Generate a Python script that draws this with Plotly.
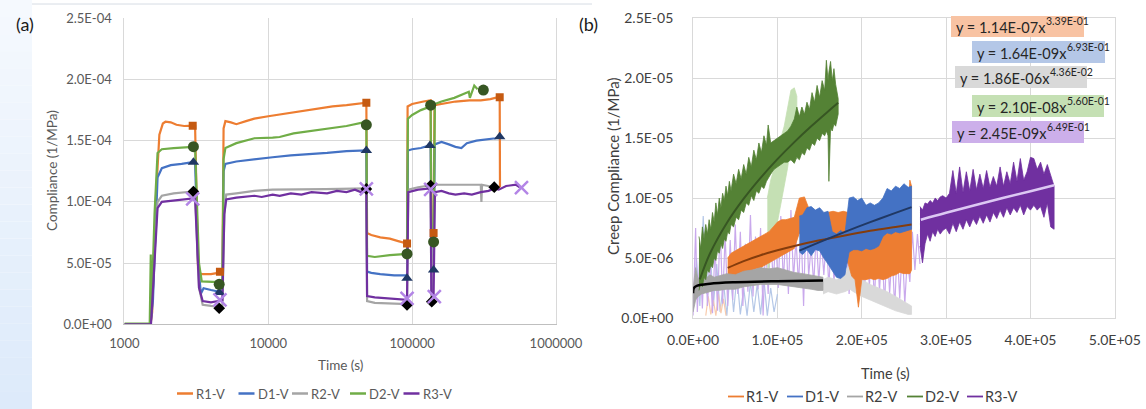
import plotly.graph_objects as go

W, H = 1146, 409
FONT = "Lato, 'Open Sans', sans-serif"

# ---------------- Panel (a) data (compliance in units of 1E-04 1/MPa) ----------------
a_xtickvals = [1000, 10000, 100000, 1000000]
a_xticktext = ["1000", "10000", "100000", "1000000"]
a_ytickvals = [0, 0.5, 1.0, 1.5, 2.0, 2.5]
a_yticktext = ["0.0E+00", "5.0E-05", "1.0E-04", "1.5E-04", "2.0E-04", "2.5E-04"]

series_names = ["R1-V", "D1-V", "R2-V", "D2-V", "R3-V"]

r1_t = [1000, 1520, 1560, 1650, 1750, 1850, 1930, 2100, 2300, 2600, 2984, 3100, 3250, 3400, 4000, 4480, 4614, 4800, 4891, 5035,
        5500, 6000, 7000, 8000, 10000, 13000, 17000, 22000, 28000, 35000, 42000, 48060, 48620, 52000, 60000, 70000, 80000, 92170, 93000, 100000,
        120000, 134500, 136000, 141000, 143000, 160000, 200000, 250000, 300000, 350000, 406100, 408000]
r1_c = [0, 0, 0.1, 1.0, 1.55, 1.64, 1.655, 1.65, 1.63, 1.62, 1.623, 1.62, 0.45, 0.41, 0.41, 0.42, 0.43, 0.43, 1.60, 1.66,
        1.65, 1.635, 1.66, 1.68, 1.70, 1.72, 1.74, 1.76, 1.78, 1.79, 1.80, 1.81, 0.745, 0.73, 0.71, 0.70, 0.68, 0.66, 1.78, 1.80,
        1.82, 1.83, 0.76, 0.744, 1.79, 1.80, 1.82, 1.83, 1.83, 1.84, 1.86, 1.12]

d1_t = [1000, 1520, 1580, 1700, 1820, 2100, 2500, 2984, 3100, 3255, 3400, 3550, 4000, 4480, 4614, 4800, 4891, 5035, 6000, 8000,
        10723, 14340, 20000, 25650, 35000, 45870, 48060, 48620, 52000, 60000, 75000, 92170, 93500, 100000, 115000, 130700, 134500, 136000, 141000, 143500,
        160000, 180000, 200000, 220000, 240000, 280000, 330000, 380000, 406100]
d1_c = [0, 0, 0.2, 1.2, 1.275, 1.30, 1.31, 1.325, 1.32, 0.5, 0.25, 0.295, 0.28, 0.265, 0.26, 0.26, 1.25, 1.31, 1.33, 1.35,
        1.365, 1.38, 1.39, 1.40, 1.415, 1.42, 1.42, 0.43, 0.42, 0.41, 0.40, 0.40, 1.42, 1.43, 1.44, 1.46, 1.46, 0.47, 0.445, 1.47,
        1.49, 1.47, 1.45, 1.44, 1.48, 1.50, 1.51, 1.52, 1.535]

r2_t = [1000, 1520, 1600, 1700, 1820, 2200, 2984, 3100, 3300, 3500, 4000, 4480, 4614, 4800, 4950, 5100, 6000, 8000, 10723, 15000,
        25000, 48060, 48620, 55000, 70000, 92170, 94000, 110000, 134500, 136000, 139000, 142600, 200000, 280000, 300000, 303000, 306000, 372200, 380000]
r2_c = [0, 0, 0.5, 1.0, 1.05, 1.07, 1.085, 1.08, 0.3, 0.16, 0.15, 0.145, 0.14, 0.14, 0.9, 1.06, 1.07, 1.09, 1.10, 1.10,
        1.105, 1.11, 0.19, 0.175, 0.17, 0.165, 1.10, 1.12, 1.135, 0.2, 0.185, 1.14, 1.14, 1.14, 1.14, 1.0, 1.14, 1.12, 1.12]

d2_t = [1000, 1500, 1525, 1535, 1560, 1620, 1700, 1820, 2200, 2984, 3100, 3300, 3450, 4000, 4480, 4614, 4800, 4891, 5035, 6000,
        7000, 8017, 10723, 12000, 15000, 20000, 25650, 35000, 45870, 48060, 48620, 55000, 70000, 92170, 93500, 100000, 115000, 130700, 134500, 136000,
        141000, 144000, 160000, 196400, 230000, 247700, 252000, 270300, 285000]
d2_c = [0.005, 0.005, 0.57, 0.1, 0.3, 0.9, 1.40, 1.43, 1.44, 1.45, 1.44, 0.5, 0.35, 0.35, 0.345, 0.33, 0.34, 1.35, 1.44, 1.48,
        1.50, 1.52, 1.525, 1.53, 1.56, 1.58, 1.60, 1.62, 1.65, 1.65, 0.56, 0.55, 0.565, 0.575, 1.68, 1.71, 1.75, 1.77, 1.78, 0.69,
        0.673, 1.80, 1.82, 1.85, 1.88, 1.90, 1.85, 1.95, 1.92]

r3_t = [1000, 1530, 1600, 1700, 1820, 2200, 2600, 2984, 3100, 3300, 3500, 4000, 4480, 4614, 4800, 4950, 5100, 6000, 7000, 8017,
        9000, 10723, 12000, 14340, 17000, 20000, 25650, 30000, 35000, 40000, 44000, 46000, 48060, 48620, 55000, 70000, 92170, 94000, 110000, 134500,
        136000, 141000, 144000, 160000, 180000, 200000, 230000, 260000, 300000, 340000, 372200, 400000, 450000, 527600, 560000]
r3_c = [0, 0, 0.4, 0.95, 1.0, 1.01, 1.02, 1.03, 1.03, 0.3, 0.19, 0.18, 0.19, 0.2, 0.2, 0.9, 1.02, 1.035, 1.04, 1.05,
        1.04, 1.06, 1.05, 1.07, 1.06, 1.08, 1.07, 1.09, 1.08, 1.10, 1.08, 1.11, 1.10, 0.23, 0.22, 0.21, 0.20, 1.08, 1.10, 1.11,
        0.25, 0.23, 1.08, 1.09, 1.07, 1.06, 1.07, 1.06, 1.08, 1.09, 1.11, 1.10, 1.13, 1.14, 1.12]

# marker points (end of each step)
r1_mk_t = [2984, 4614, 48060, 92170, 141000, 406100]
r1_mk_c = [1.623, 0.43, 1.81, 0.66, 0.745, 1.855]
d1_mk_t = [3018, 4560, 48060, 92170, 133000, 141000, 406100]
d1_mk_c = [1.324, 0.26, 1.419, 0.376, 1.46, 0.444, 1.533]
r2_mk_t = [3018, 4560, 48060, 92170, 134500, 136900, 372200]
r2_mk_c = [1.084, 0.131, 1.106, 0.158, 1.133, 0.185, 1.12]
d2_mk_t = [3018, 4560, 48060, 92170, 134500, 141000, 312600]
d2_mk_c = [1.451, 0.327, 1.63, 0.575, 1.79, 0.673, 1.914]
r3_mk_t = [2984, 4614, 48060, 92170, 134500, 142600, 575600]
r3_mk_c = [1.024, 0.20, 1.106, 0.212, 1.103, 0.226, 1.117]

# ---------------- Panel (b) data (time in s, creep compliance in units of 1E-06 1/MPa) ----------------
b_xtickvals = [0, 100000, 200000, 300000, 400000, 500000]
b_xticktext = ["0.0E+00", "1.0E+05", "2.0E+05", "3.0E+05", "4.0E+05", "5.0E+05"]
b_ytickvals = [0, 5, 10, 15, 20, 25]
b_yticktext = ["0.0E+00", "5.0E-06", "1.0E-05", "1.5E-05", "2.0E-05", "2.5E-05"]

# raw (light) data, zig-zag readings
lp_t = [0, 3000, 5000, 8000, 11000, 14000, 17000, 20000, 23000, 26000, 29000, 32000, 35000, 38000, 41000, 44000, 47000, 50000, 53000, 56000,
        59000, 62000, 65000, 68000, 71000, 74000, 77000, 80000, 83000, 86000, 89000, 92000, 95000, 98000, 101000, 104000, 107000, 110000, 113000, 116000,
        119000, 122000, 125000, 128000, 131000, 134000, 137000, 140000, 143000, 146000, 149000, 152000, 155000, 158000, 161000, 164000, 167000, 170000, 173000, 176000,
        179000, 182000, 185000, 188000, 191000, 194000, 197000, 200000, 203000, 206000, 209000, 212000, 215000, 218000, 221000, 224000, 227000, 230000, 233000, 236000,
        239000, 242000, 245000, 248000, 251000, 254000, 257000, 260000, 263000, 266000, 269000]
lp_c = [0.2, 7.5, 0.5, 5.5, 0.8, 6.8, 1.0, 5.0, 0.4, 6.0, 0.6, 8.0, 1.2, 7.0, 1.0, 6.5, 1.5, 7.8, 2.0, 7.2,
        1.0, 6.2, 2.2, 8.6, 1.8, 6.8, 2.4, 7.5, 0.2, 6.4, 2.0, 7.0, 3.0, 6.5, 2.5, 8.5, 3.0, 7.2, 2.0, 9.0,
        3.2, 6.6, 2.8, 7.5, 1.0, 9.2, 3.5, 6.0, 2.8, 7.0, 3.0, 6.5, 3.6, 6.8, 2.5, 7.4, 3.0, 6.0, 3.4, 7.2,
        2.6, 6.4, 2.0, 7.0, 3.0, 6.2, 2.4, 7.6, 1.8, 6.4, 2.6, 6.0, 1.4, 6.6, 2.2, 6.0, 1.0, 6.4, 2.0, 5.6,
        0.8, 5.8, 1.6, 6.0, 1.2, 5.0, 3.0, 7.2, 4.0, 7.0, 4.5]

lb_t = [0, 4000, 8000, 12000, 16000, 20000, 24000, 28000, 32000, 36000, 40000, 44000, 48000, 52000, 56000, 60000, 64000, 68000, 72000, 76000,
        80000, 84000, 88000, 92000, 96000, 100000]
lb_c = [0.5, 5.0, 1.0, 8.5, 2.0, 6.0, 1.0, 4.5, 0.5, 3.0, 0.2, 4.0, 0.5, 3.5, 0.3, 2.5, 0.2, 3.0, 0.5, 2.8,
        0.3, 3.2, 0.2, 2.5, 0.5, 2.0]

lo_t = [15000, 18000, 21000, 24000, 27000, 30000, 33000, 36000, 39000]
lo_c = [0.2, 1.8, 0.3, 1.5, 0.2, 2.0, 0.4, 1.6, 0.2]

lg_t = [88000, 92000, 96000, 100000, 104000, 108000, 112000, 116000, 120000, 123000]
lg_hi = [10.0, 11.5, 12.5, 13.8, 15.0, 16.0, 17.5, 19.0, 19.2, 18.5]
lg_lo = [3.5, 5.0, 6.5, 8.0, 9.5, 11.0, 12.5, 14.5, 16.0, 16.8]

lgr_t = [154000, 160000, 170000, 180000, 186000, 190000, 200000, 210000, 220000, 230000, 240000, 250000, 255000, 259000]
lgr_hi = [3.2, 3.4, 3.2, 3.6, 4.6, 3.8, 3.2, 2.8, 2.5, 2.2, 1.8, 1.4, 1.2, 1.0]
lgr_lo = [2.0, 2.2, 2.0, 2.2, 2.4, 2.2, 1.8, 1.5, 1.2, 0.9, 0.6, 0.4, 0.3, 0.3]

# fitted-range data: upper / lower envelopes of the oscillating signal
b_r1_t = [41000, 45000, 50000, 55000, 60000, 65000, 70000, 75000, 80000, 85000, 90000, 95000, 100000, 105000, 110000, 115000, 120000, 126000, 132000, 138000,
          145000, 152000, 160000, 166000, 172000, 178000, 184000, 188000, 192000, 196000, 200000, 205000, 210000, 215000, 220000, 225000, 230000, 235000, 240000, 245000,
          250000, 254000, 257000, 259000]
b_r1_hi = [5.0, 5.4, 5.6, 5.8, 6.0, 6.2, 6.4, 6.6, 6.8, 7.0, 7.2, 7.6, 8.0, 8.2, 8.2, 8.3, 8.4, 10.0, 10.1, 9.0,
           8.8, 8.7, 8.8, 8.9, 8.8, 8.9, 8.8, 8.9, 8.7, 7.3, 7.4, 7.3, 7.4, 7.5, 7.3, 7.6, 7.6, 7.7, 7.6, 7.8,
           8.0, 8.2, 11.5, 11.0]
b_r1_lo = [2.9, 3.0, 3.2, 3.4, 3.6, 3.8, 4.0, 4.1, 4.2, 4.4, 4.6, 4.8, 5.0, 5.2, 5.4, 5.6, 5.8, 7.1, 6.5, 6.0,
           5.8, 5.7, 5.7, 5.7, 5.7, 5.2, 4.5, 3.5, 3.2, 0.9, 3.2, 3.2, 3.3, 3.2, 3.3, 3.2, 3.3, 3.5, 3.6, 3.8,
           3.7, 3.7, 3.7, 4.0]

b_d1_t = [126000, 130000, 135000, 140000, 145000, 150000, 155000, 160000, 165000, 170000, 175000, 180000, 185000, 190000, 195000, 200000, 205000, 210000, 215000, 220000,
          225000, 230000, 235000, 240000, 245000, 250000, 255000, 259000]
b_d1_hi = [8.5, 8.6, 9.2, 9.3, 9.0, 9.2, 8.8, 8.9, 7.2, 7.0, 7.3, 7.0, 10.0, 10.1, 9.8, 10.0, 9.4, 9.6, 9.4, 9.6,
           10.0, 10.8, 10.6, 11.0, 10.8, 11.2, 10.9, 11.0]
b_d1_lo = [5.5, 5.3, 5.7, 5.2, 5.7, 5.6, 5.0, 4.5, 4.0, 3.4, 3.3, 3.6, 5.5, 5.7, 5.7, 5.6, 5.8, 5.7, 5.8, 6.0,
           6.8, 7.1, 7.0, 7.2, 7.1, 7.2, 7.3, 7.4]

b_r2_t = [0, 3000, 6000, 10000, 15000, 20000, 25000, 30000, 40000, 50000, 60000, 70000, 80000, 90000, 100000, 110000, 120000, 130000, 140000, 148000, 154000]
b_r2_hi = [2.5, 4.2, 3.2, 3.8, 3.3, 3.6, 3.4, 3.5, 3.7, 3.6, 3.9, 4.0, 4.2, 4.1, 4.2, 4.0, 3.8, 3.7, 3.6, 3.5, 3.4]
b_r2_lo = [0.5, 1.5, 1.8, 2.0, 2.1, 2.2, 2.3, 2.3, 2.4, 2.4, 2.6, 2.7, 2.8, 2.8, 2.8, 2.7, 2.6, 2.5, 2.4, 2.3, 2.3]

b_d2_t = [7000, 9000, 11000, 13000, 15000, 17000, 19000, 21000, 23000, 25000, 27000, 29000, 31000, 33000, 35000, 37000, 39000, 41000, 43000, 45000,
          48000, 51000, 54000, 57000, 60000, 63000, 66000, 69000, 72000, 75000, 78000, 81000, 84000, 87000, 89000, 92000, 96000, 100000, 104000, 108000,
          112000, 116000, 120000, 123000, 126000, 129000, 132000, 135000, 138000, 141000, 144000, 147000, 150000, 153000, 156000, 158000, 160000, 161000, 163000, 165000,
          167000, 169000, 171000, 172000]
b_d2_hi = [6.8, 5.8, 7.6, 6.6, 7.8, 7.0, 8.2, 7.4, 8.8, 8.0, 9.6, 8.6, 10.0, 9.2, 10.4, 9.8, 11.0, 10.2, 11.4, 10.6,
           12.0, 11.2, 12.4, 11.6, 12.8, 12.0, 13.4, 12.6, 14.0, 13.2, 14.6, 13.8, 15.2, 14.4, 16.1, 14.6, 14.8, 15.0, 15.2, 15.4,
           15.6, 16.0, 16.6, 17.6, 16.8, 17.6, 17.0, 18.0, 17.4, 18.8, 18.0, 19.4, 18.4, 19.8, 19.0, 21.5, 19.8, 20.5, 21.4, 19.8,
           20.8, 19.5, 18.8, 18.3]
b_d2_lo = [2.3, 3.0, 2.6, 3.4, 3.2, 4.0, 3.8, 4.4, 4.2, 5.0, 4.8, 5.6, 5.4, 6.2, 5.8, 6.6, 6.4, 7.2, 7.0, 7.8,
           7.6, 8.4, 8.2, 9.0, 8.8, 9.6, 9.4, 10.2, 9.8, 10.6, 10.4, 11.0, 10.8, 11.4, 11.6, 12.0, 12.4, 12.6, 12.8, 13.0,
           13.0, 13.2, 12.9, 13.4, 13.2, 13.8, 13.6, 14.2, 14.0, 14.6, 14.4, 15.0, 14.8, 15.4, 15.2, 15.6, 15.2, 11.4, 15.8, 15.6,
           16.2, 16.0, 16.6, 17.0]

b_r3_t = [269000, 272000, 275000, 278000, 281000, 284000, 287000, 290000, 293000, 296000, 300000, 304000, 308000, 312000, 316000, 320000, 324000, 328000, 332000, 336000,
          340000, 344000, 348000, 352000, 356000, 360000, 364000, 368000, 372000, 376000, 380000, 384000, 388000, 392000, 396000, 400000, 404000, 408000, 412000, 416000,
          420000, 424000, 428000]
b_r3_hi = [9.3, 9.0, 9.6, 9.5, 9.8, 9.6, 10.0, 9.8, 10.1, 10.2, 10.0, 10.4, 12.3, 10.4, 12.6, 10.5, 12.2, 10.6, 12.4, 10.7,
           12.0, 10.8, 12.3, 10.9, 11.8, 11.0, 12.6, 11.0, 12.2, 11.2, 13.0, 11.4, 13.3, 11.5, 12.2, 13.4, 13.3, 12.4, 13.0, 12.0,
           12.8, 11.8, 11.0]
b_r3_lo = [6.0, 4.6, 6.2, 7.0, 6.4, 7.2, 6.8, 7.4, 7.0, 7.3, 7.5, 7.0, 7.9, 7.2, 8.0, 7.4, 8.2, 7.6, 8.3, 7.8,
           8.5, 7.9, 8.6, 8.0, 8.8, 8.3, 9.0, 8.4, 9.2, 8.6, 9.2, 8.8, 9.4, 8.6, 9.3, 9.0, 9.4, 9.0, 9.3, 8.4,
           9.6, 7.6, 7.4]

# power-law trendlines
fit_d2_t = [8000, 20000, 40000, 60000, 80000, 100000, 120000, 140000, 160000, 172000]
fit_d2_c = [3.22, 5.38, 7.93, 9.95, 11.69, 13.25, 14.67, 15.99, 17.23, 17.95]
fit_r1_t = [41000, 60000, 80000, 100000, 120000, 150000, 180000, 210000, 240000, 259000]
fit_r1_c = [4.18, 4.75, 5.24, 5.65, 6.01, 6.48, 6.89, 7.27, 7.60, 7.80]
fit_d1_t = [126000, 150000, 180000, 210000, 240000, 259000]
fit_d1_c = [5.62, 6.33, 7.19, 8.00, 8.77, 9.25]
fit_r2_t = [10, 100, 1000, 5000, 20000, 50000, 100000, 154000]
fit_r2_c = [2.06, 2.27, 2.51, 2.70, 2.86, 2.98, 3.07, 3.13]
fit_r3_t = [270000, 300000, 350000, 400000, 428000]
fit_r3_c = [8.20, 8.78, 9.70, 10.58, 11.07]

eq_base = ["y = 1.14E-07x", "y = 1.64E-09x", "y = 1.86E-06x", "y = 2.10E-08x", "y = 2.45E-09x"]
eq_sup = ["3.39E-01", "6.93E-01", "4.36E-02", "5.60E-01", "6.49E-01"]
eq_bg = ["#F8C3A3", "#B4C7E7", "#D9D9D9", "#C5E0B4", "#CCAFEA"]

# ---------------- styling ----------------
col_a = ["#ED7D31", "#4472C4", "#A5A5A5", "#70AD47", "#7030A0"]
col_b = ["#ED7D31", "#4472C4", "#A5A5A5", "#548235", "#7030A0"]


def px(x):
    return x / W


def py(y):
    return 1 - y / H


fig = go.Figure()

# ---- panel (a) lines ----
for t, c, col in zip([r1_t, d1_t, r2_t, d2_t, r3_t], [r1_c, d1_c, r2_c, d2_c, r3_c], col_a):
    fig.add_trace(go.Scatter(x=t, y=c, mode="lines", line=dict(color=col, width=2.2),
                             xaxis="x", yaxis="y", showlegend=False, hoverinfo="skip"))

mk_specs = [
    (r1_mk_t, r1_mk_c, dict(symbol="square", size=8, color="#C55A11")),
    (d1_mk_t, d1_mk_c, dict(symbol="triangle-up", size=10, color="#203864")),
    (r2_mk_t, r2_mk_c, dict(symbol="diamond", size=9, color="#000000")),
    (d2_mk_t, d2_mk_c, dict(symbol="circle", size=11, color="#375623")),
    (r3_mk_t, r3_mk_c, dict(symbol="x-thin", size=13, color="#B385E6", line=dict(color="#B385E6", width=2.5))),
]
for t, c, m in mk_specs:
    fig.add_trace(go.Scatter(x=t, y=c, mode="markers", marker=m, xaxis="x", yaxis="y",
                             showlegend=False, hoverinfo="skip"))


# ---- panel (b) ----
def band(t, hi, lo, color, width=0.8):
    fig.add_trace(go.Scatter(x=t + t[::-1], y=hi + lo[::-1], mode="lines", fill="toself",
                             fillcolor=color, line=dict(color=color, width=width),
                             xaxis="x2", yaxis="y2", showlegend=False, hoverinfo="skip"))


def zig(t, c, color, width=1.2):
    fig.add_trace(go.Scatter(x=t, y=c, mode="lines", line=dict(color=color, width=width),
                             xaxis="x2", yaxis="y2", showlegend=False, hoverinfo="skip"))


zig(lb_t, lb_c, "#B4C7E7")
zig(lo_t, lo_c, "#F8CBAD")
zig(lp_t, lp_c, "#C9A9EC")
band(lg_t, lg_hi, lg_lo, "#C5E0B4")
band(lgr_t, lgr_hi, lgr_lo, "#D9D9D9")

band(b_r1_t, b_r1_hi, b_r1_lo, col_b[0])
band(b_d1_t, b_d1_hi, b_d1_lo, col_b[1])
band(b_r2_t, b_r2_hi, b_r2_lo, col_b[2])
band(b_d2_t, b_d2_hi, b_d2_lo, col_b[3])
band(b_r3_t, b_r3_hi, b_r3_lo, col_b[4])

for t, c, col, w in [(fit_d2_t, fit_d2_c, "#375623", 2),
                     (fit_r1_t, fit_r1_c, "#843C0C", 2),
                     (fit_d1_t, fit_d1_c, "#203864", 2),
                     (fit_r2_t, fit_r2_c, "#000000", 2.5),
                     (fit_r3_t, fit_r3_c, "#DCC8F3", 2.5)]:
    fig.add_trace(go.Scatter(x=t, y=c, mode="lines", line=dict(color=col, width=w, shape="spline"),
                             xaxis="x2", yaxis="y2", showlegend=False, hoverinfo="skip"))

# ---- axes ----
grid = "#D9D9D9"
fig.update_layout(
    width=W, height=H, margin=dict(l=0, r=0, t=0, b=0, autoexpand=False),
    paper_bgcolor="white", plot_bgcolor="white", showlegend=False,
    font=dict(family=FONT),
    xaxis=dict(domain=[px(124.4), px(556)], type="log", range=[3, 6], automargin=False,
               tickvals=a_xtickvals, ticktext=a_xticktext, showgrid=True, gridcolor=grid,
               showline=True, linecolor="#BFBFBF", zeroline=False, ticks="",
               tickfont=dict(size=13, color="#595959", family=FONT), ticklabelstandoff=7),
    yaxis=dict(domain=[py(324.3), py(18.3)], range=[0, 2.5], tickvals=a_ytickvals, ticktext=a_yticktext,
               automargin=False,
               showgrid=True, gridcolor=grid, showline=True, linecolor=grid, mirror=True, zeroline=False,
               ticks="", tickfont=dict(size=13, color="#595959", family=FONT), ticklabelstandoff=9),
    xaxis2=dict(domain=[px(693.1), px(1114.8)], range=[0, 500000], tickvals=b_xtickvals, ticktext=b_xticktext,
                automargin=False,
                showgrid=True, gridcolor=grid, showline=True, linecolor=grid, mirror=True, zeroline=False,
                ticks="", tickfont=dict(size=14, color="#404040", family=FONT), ticklabelstandoff=9,
                anchor="y2"),
    yaxis2=dict(domain=[py(318), py(18.3)], range=[0, 25], tickvals=b_ytickvals, ticktext=b_yticktext,
                automargin=False,
                showgrid=True, gridcolor=grid, showline=True, linecolor=grid, mirror=True, zeroline=False,
                ticks="", tickfont=dict(size=14, color="#404040", family=FONT), ticklabelstandoff=16,
                anchor="x2"),
)

# ---- decorations: left blue strip (soft gradient) and top rule ----
n_strip = 24
for i in range(n_strip):
    f = i / (n_strip - 1)
    r = int(round(0xF5 + (0xDD - 0xF5) * f))
    g = int(round(0xF9 + (0xEA - 0xF9) * f))
    b = int(round(0xFE + (0xFA - 0xFE) * f))
    fig.add_shape(type="rect", xref="paper", yref="paper", x0=0, x1=px(32),
                  y0=py(H * (i + 1) / n_strip), y1=py(H * i / n_strip),
                  fillcolor=f"rgb({r},{g},{b})", line=dict(width=0), layer="below")
fig.add_shape(type="line", xref="paper", yref="paper", x0=px(32), x1=px(592), y0=py(4), y1=py(4),
              line=dict(color="#D6DCE4", width=1))

ann = []


def text(x, y, s, size, color, angle=0, **kw):
    d = dict(x=px(x), y=py(y), xref="paper", yref="paper", text=s, showarrow=False,
             font=dict(family=FONT, size=size, color=color), textangle=angle,
             xanchor="center", yanchor="middle")
    d.update(kw)
    ann.append(d)


text(25, 24, "(a)", 18, "#1a1a1a")
text(588, 24, "(b)", 18, "#1a1a1a")
text(52, 171, "Compliance (1/MPa)", 13.5, "#595959", angle=-90)
text(340, 365, "Time (s)", 13.5, "#595959")
text(613, 167, "Creep Compliance (1/MPa)", 15, "#404040", angle=-90)
text(885, 373, "Time (s)", 14.5, "#404040")

# legends: coloured key line + series name
for name, col, x0 in zip(series_names, col_a, [177, 238.5, 292, 350, 403.5]):
    fig.add_shape(type="line", xref="paper", yref="paper", x0=px(x0), x1=px(x0 + 16), y0=py(393.5), y1=py(393.5),
                  line=dict(color=col, width=2.5))
    text(x0 + 17, 393.5, name, 13, "#595959", xanchor="left")
for name, col, x0 in zip(series_names, col_b, [728, 787, 847, 907, 967]):
    fig.add_shape(type="line", xref="paper", yref="paper", x0=px(x0), x1=px(x0 + 16), y0=py(396.5), y1=py(396.5),
                  line=dict(color=col, width=1.8))
    text(x0 + 16, 396.5, name, 14.5, "#404040", xanchor="left")

# equation boxes: box, main text, superscript exponent
eq_boxes = [(951, 1084, 16, 37), (972, 1105, 41, 63), (955, 1087, 66, 88), (972, 1104, 95, 117), (952, 1084, 121, 143)]
for base, sup, bg, (x0, x1, y0, y1) in zip(eq_base, eq_sup, eq_bg, eq_boxes):
    fig.add_shape(type="rect", xref="paper", yref="paper", x0=px(x0), x1=px(x1), y0=py(y1), y1=py(y0),
                  fillcolor=bg, line=dict(width=0))
    yc = (y0 + y1) / 2
    text(x0 + 3, yc + 1.5, base, 14.5, "#262626", xanchor="left")
    text(x0 + 93, yc - 5, sup, 10.5, "#262626", xanchor="left")

fig.update_layout(annotations=ann)
fig.write_html("out.html")
